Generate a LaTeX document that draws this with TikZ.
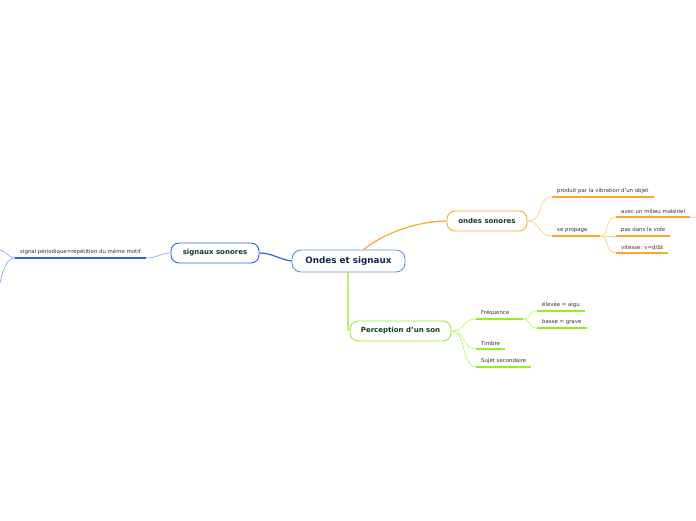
\documentclass[tikz,border=0pt]{standalone}
\usepackage{fontspec}
\setmainfont{DejaVu Sans}
\usepackage{tikz}
\usetikzlibrary{positioning}
\definecolor{rootblue}{RGB}{88,154,214}
\definecolor{rootnavy}{RGB}{16,40,80}
\definecolor{topicgreen}{RGB}{14,60,44}
\definecolor{sonorange}{RGB}{247,168,45}
\definecolor{sonlight}{RGB}{252,210,140}
\definecolor{sigblue}{RGB}{45,95,240}
\definecolor{siglight}{RGB}{150,178,250}
\definecolor{perclime}{RGB}{150,236,40}
\definecolor{perclight}{RGB}{196,246,130}
\definecolor{leaftext}{RGB}{50,50,50}

\begin{document}
\begin{tikzpicture}[
    x=1pt, y=-1pt,
    topic/.style={rectangle, draw, rounded corners=8pt, line width=0.9pt, fill=white, text=topicgreen, font=\bfseries\fontsize{7}{8}\selectfont, minimum height=20pt, inner xsep=10pt},
    leaf/.style={anchor=south west, inner xsep=5pt, inner ysep=3pt, text=leaftext, font=\fontsize{5.4}{6}\selectfont},
    rootline/.style={line width=1.2pt},
    ounder/.style={sonorange, line width=1.6pt},
    oline/.style={sonlight, line width=0.8pt},
    bunder/.style={sigblue, line width=1.6pt},
    bline/.style={siglight, line width=0.8pt},
    gunder/.style={perclime, line width=1.6pt},
    gline/.style={perclight, line width=0.8pt}
]
\useasboundingbox (0,0) rectangle (696,520);

% Central topic
\node[topic, draw=rootblue, text=rootnavy, font=\bfseries\fontsize{8.8}{10}\selectfont, minimum width=113pt, minimum height=22pt, rounded corners=9pt] (root) at (348.5,261) {Ondes et signaux};

% Main topics
\node[topic, draw=sonorange, minimum width=80pt] (ondes) at (487,221) {ondes sonores};
\node[topic, draw=sigblue, minimum width=88pt] (signaux) at (215,253) {signaux sonores};
\node[topic, draw=perclime, minimum width=101pt] (perc) at (400.5,331) {Perception d'un son};

% Root connectors
\draw[rootline, sonorange] (363,250) .. controls (385,232) and (420,221) .. (ondes.west);
\draw[rootline, sigblue] (root.west) .. controls (278,259) and (272,253) .. (signaux.east);
\draw[rootline, perclime] (348,272) -- (348,324) .. controls (348,330) .. (perc.west);

% ondes sonores branch
\node[leaf] (prod) at (552,197) {produit par la vibration d'un objet};
\node[leaf, text width=38pt, align=left] (prop) at (552,236) {se propage};
\node[leaf] (milieu) at (616,217) {avec un milieu matériel};
\node[leaf] (vide) at (616,236) {pas dans le vide};
\node[leaf] (vit) at (616,253) {vitesse: v=d/Δt};
\coordinate (milieuout) at (696,217);

\draw[oline] (ondes.east) .. controls (545,221) and (536,197) .. (prod.south west);
\draw[oline] (ondes.east) .. controls (540,221) and (538,236) .. (prop.south west);
\draw[oline] (prop.south east) .. controls (610,236) and (604,217) .. (milieu.south west);
\draw[oline] (prop.south east) -- (vide.south west);
\draw[oline] (prop.south east) .. controls (610,236) and (604,253) .. (vit.south west);
\draw[oline] (milieu.south east) -- (milieuout);
\foreach \n in {prod, prop, milieu, vide, vit}
  \draw[ounder] (\n.south west) -- (\n.south east);

% signaux sonores branch
\node[leaf] (perio) at (15,258) {signal périodique=répétition du même motif};
\coordinate (leftup) at (0,250);
\coordinate (leftdown) at (0,283);

\draw[bline] (signaux.west) .. controls (160,253) and (158,258) .. (perio.south east);
\draw[bline] (perio.south west) .. controls (9,258) and (6,251) .. (leftup);
\draw[bline] (perio.south west) .. controls (8,258) and (3,268) .. (leftdown);
\draw[bunder] (perio.south west) -- (perio.south east);

% Perception d'un son branch
\node[leaf, text width=37pt, align=left] (freq) at (476,319) {Fréquence};
\node[leaf] (aigu) at (537,311) {élevée = aigu};
\node[leaf] (grave) at (537,328) {basse = grave};
\node[leaf, text width=19pt, align=left] (timbre) at (476,349) {Timbre};
\node[leaf] (sujet) at (476,367) {Sujet secondaire};

\draw[gline] (perc.east) .. controls (466,331) and (462,319) .. (freq.south west);
\draw[gline] (perc.east) .. controls (466,331) and (462,349) .. (timbre.south west);
\draw[gline] (perc.east) .. controls (466,331) and (462,367) .. (sujet.south west);
\draw[gline] (freq.south east) .. controls (531,319) and (528,311) .. (aigu.south west);
\draw[gline] (freq.south east) .. controls (531,319) and (528,328) .. (grave.south west);
\foreach \n in {freq, aigu, grave, timbre, sujet}
  \draw[gunder] (\n.south west) -- (\n.south east);
\end{tikzpicture}
\end{document}
